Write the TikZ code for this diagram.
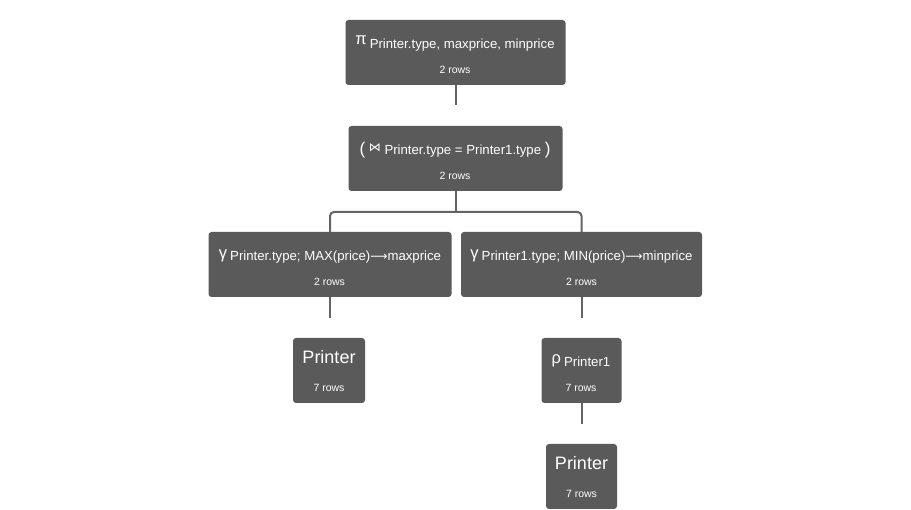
\documentclass[tikz,border=0pt]{standalone}
\usepackage{fontspec}
\setmainfont{Liberation Sans}
\newfontfamily\dvfont{DejaVu Sans}
\definecolor{boxfill}{RGB}{90,90,90}
\definecolor{linecol}{RGB}{100,100,100}
\newcommand\opsym[2][3.5pt]{\raisebox{#1}{\fontsize{16.5}{16}\selectfont #2}\hspace{3pt}}
\newcommand\arr{{\dvfont\fontsize{12}{12}\selectfont ⟶}}
\tikzset{
  box/.style={fill=boxfill, rounded corners=3pt, inner sep=0pt},
  ttl/.style={anchor=base, text=white, inner sep=0pt, font=\fontsize{13.2}{14}\selectfont},
  big/.style={anchor=base, text=white, inner sep=0pt, font=\fontsize{18}{20}\selectfont},
  rws/.style={anchor=base, text=white, inner sep=0pt, font=\fontsize{10.5}{12}\selectfont},
  conn/.style={draw=linecol, line width=2pt}
}
\begin{document}
\begin{tikzpicture}[x=1pt,y=-1pt]
\useasboundingbox (0,0) rectangle (911,510);
% top projection
\node[box, minimum width=220pt, minimum height=65pt] (pi) at (455.5,52.5) {};
\node[ttl] (pit) at (455,48.5) {\opsym{π}Printer.type, maxprice, minprice};
\node[rws] (pir) at (455,74) {2 rows};
% join
\node[box, minimum width=214pt, minimum height=65pt] (join) at (455.5,158.5) {};
\node[ttl] (joint) at (455,155) {{\fontsize{17}{17}\selectfont (} \raisebox{3pt}{\dvfont\fontsize{12}{12}\selectfont ⋈} Printer.type = Printer1.type {\fontsize{17}{17}\selectfont )}};
\node[rws] (joinr) at (455,180) {2 rows};
% gamma left
\node[box, minimum width=243pt, minimum height=65pt] (gl) at (330,264.5) {};
\node[ttl] (glt) at (330,261) {\opsym[2.5pt]{γ}Printer.type; MAX(price)\arr maxprice};
\node[rws] (glr) at (329.5,286) {2 rows};
% gamma right
\node[box, minimum width=241pt, minimum height=65pt] (gr) at (581.5,264.5) {};
\node[ttl] (grt) at (581.5,261) {\opsym[2.5pt]{γ}Printer1.type; MIN(price)\arr minprice};
\node[rws] (grr) at (581.5,286) {2 rows};
% printer left
\node[box, minimum width=72pt, minimum height=65pt] (pl) at (329,370.5) {};
\node[big] (plt) at (329,364) {Printer};
\node[rws] (plr) at (329,392) {7 rows};
% rho
\node[box, minimum width=80pt, minimum height=65pt] (rho) at (581.5,370.5) {};
\node[ttl] (rhot) at (581,366.5) {\opsym[3pt]{ρ}Printer1};
\node[rws] (rhor) at (581,392) {7 rows};
% printer right
\node[box, minimum width=71pt, minimum height=65pt] (pr) at (581.5,476.5) {};
\node[big] (prt) at (581.5,470) {Printer};
\node[rws] (prr) at (581.5,498) {7 rows};
% connectors
\coordinate (c1) at (455.5,105.5);
\draw[conn] (pi.south) -- (c1);
\coordinate (c2) at (455.5,212);
\draw[conn] (join.south) -- (c2);
\draw[conn, rounded corners=4pt] (gl.north) |- (c2) -| (gr.north);
\coordinate (c3) at (330,318);
\draw[conn] (gl.south) -- (c3);
\coordinate (c4) at (581.5,318);
\draw[conn] (gr.south) -- (c4);
\coordinate (c5) at (581.5,424);
\draw[conn] (rho.south) -- (c5);
\end{tikzpicture}
\end{document}
